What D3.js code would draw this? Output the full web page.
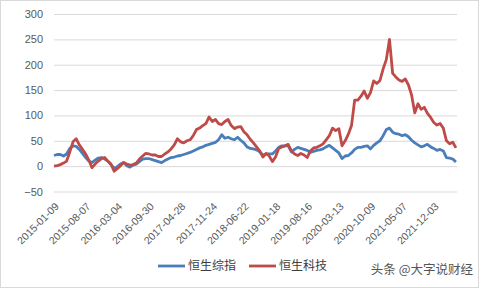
<!DOCTYPE html>
<html>
<head>
<meta charset="utf-8">
<script src="https://cdn.jsdelivr.net/npm/d3@7"></script>
<style>
  html, body { margin: 0; padding: 0; background: #fff; }
  svg { display: block; }
  .tick-label { font-family: "Liberation Sans", Arial, sans-serif; font-size: 11px; fill: #595959; }
  .x-label { font-size: 10.5px; }
  .legend-text { font-family: "Noto Sans CJK SC", sans-serif; font-size: 12px; fill: #404040; }
</style>
</head>
<body>
<svg id="chart" width="481" height="289"></svg>
<script>
// weekly data, one value every 3 weeks starting 2015-01-09
const startDate   = new Date(2015, 0, 9);
const stepWeeks   = 3;
const totalWeeks  = 382;

const hsciValues = [
  21, 23, 23, 20, 24, 35, 40, 39, 33, 25, 17, 10, 7, 12, 16, 17, 14, 10, 3, -4,
  -1, 4, 7, 1, -2, 2, 4, 9, 14, 15, 15, 13, 11, 9, 7, 11, 14, 17, 18, 20,
  21, 23, 25, 27, 30, 33, 36, 38, 41, 43, 45, 47, 52, 62, 55, 57, 54, 52, 57, 51,
  46, 38, 35, 34, 32, 28, 22, 24, 24, 24, 30, 37, 40, 40, 40, 28, 33, 37, 35, 33,
  31, 27, 29, 31, 32, 34, 38, 41, 36, 31, 26, 15, 20, 21, 26, 33, 37, 37, 39, 40,
  34, 41, 46, 50, 60, 72, 75, 67, 64, 63, 60, 62, 58, 51, 46, 42, 38, 40, 43, 38,
  35, 31, 33, 30, 17, 16, 14, 8
];

const hstechValues = [
  0, 1, 3, 6, 10, 28, 48, 54, 42, 33, 24, 12, -3, 4, 10, 15, 17, 10, 4, -10,
  -5, 1, 7, 4, 2, 3, 6, 14, 20, 25, 24, 22, 22, 19, 19, 24, 28, 34, 42, 54,
  48, 46, 50, 52, 60, 72, 75, 80, 84, 97, 88, 92, 84, 82, 88, 92, 80, 74, 77, 78,
  68, 62, 53, 46, 38, 30, 18, 25, 20, 9, 18, 35, 38, 40, 43, 30, 24, 21, 25, 22,
  17, 30, 36, 37, 40, 44, 52, 60, 75, 70, 74, 40, 50, 63, 80, 130, 130, 138, 148, 134,
  145, 168, 163, 169, 192, 210, 250, 183, 176, 170, 167, 172, 160, 140, 105, 123, 112, 116, 104, 96,
  86, 81, 84, 75, 50, 44, 47, 36
];

const seriesNames = ['恒生综指', '恒生科技'];
const seriesColors = ['#4A7EBB', '#BE4B48'];
const yTicks = [-50, 0, 50, 100, 150, 200, 250, 300];
const labelEvery = 30; // weeks between category labels

const svg = d3.select('#chart');
const W = 481, H = 289;
const margin = { left: 54, right: 24, top: 14, bottom: 98 };

// chart border
svg.append('rect')
  .attr('x', 0.5).attr('y', 0.5)
  .attr('width', W - 3).attr('height', H - 2)
  .attr('fill', '#fff')
  .attr('stroke', '#D9D9D9');

const x = d3.scaleLinear()
  .domain([0, totalWeeks])
  .range([margin.left, W - margin.right]);

const y = d3.scaleLinear()
  .domain([-50, 300])
  .range([H - margin.bottom + 0.5, margin.top]);

// gridlines + y labels
const yAxis = svg.append('g')
  .attr('transform', `translate(${margin.left},0)`)
  .call(d3.axisLeft(y).tickValues(yTicks)
    .tickSize(-(W - margin.left - margin.right))
    .tickPadding(11));
yAxis.select('.domain').remove();
yAxis.selectAll('line').attr('stroke', '#D9D9D9');
yAxis.selectAll('text').attr('class', 'tick-label').attr('fill', null);

// x labels
const fmt = d3.timeFormat('%Y-%m-%d');
const labelWeeks = d3.range(0, totalWeeks, labelEvery);
svg.append('g')
  .selectAll('text')
  .data(labelWeeks)
  .join('text')
  .attr('class', 'tick-label x-label')
  .attr('text-anchor', 'end')
  .attr('transform', w => `translate(${x(w) + 3},${y(-50) + 13}) rotate(-45)`)
  .attr('dy', '0.35em')
  .text(w => fmt(d3.timeWeek.offset(startDate, w)));

// lines
const line = d3.line()
  .x((d, i) => x(i * stepWeeks))
  .y(d => y(d));

[hsciValues, hstechValues].forEach((vals, si) => {
  svg.append('path')
    .datum(vals)
    .attr('fill', 'none')
    .attr('stroke', seriesColors[si])
    .attr('stroke-width', 2.8)
    .attr('stroke-linejoin', 'round')
    .attr('d', line);
});

// legend
const legendX = [158, 249];
seriesNames.forEach((name, i) => {
  const g = svg.append('g').attr('transform', `translate(${legendX[i]},266)`);
  g.append('line')
    .attr('x1', 0).attr('x2', 27)
    .attr('stroke', seriesColors[i])
    .attr('stroke-width', 2.8);
  g.append('text')
    .attr('class', 'legend-text')
    .attr('x', 30)
    .attr('dy', '0.35em')
    .text(name);
});

// watermark
svg.append('text')
  .attr('x', 473).attr('y', 270)
  .attr('text-anchor', 'end')
  .attr('dy', '0.35em')
  .attr('font-family', '"Noto Sans CJK SC", sans-serif')
  .attr('font-size', 12.5)
  .attr('fill', '#555')
  .text('头条 @大字说财经');
</script>
</body>
</html>
